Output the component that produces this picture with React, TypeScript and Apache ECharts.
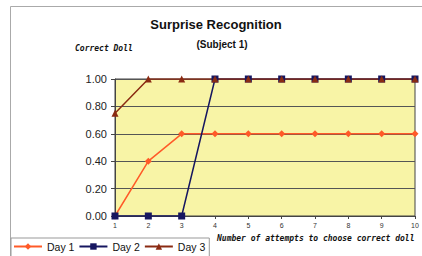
import React, { useEffect, useRef } from "react";
import * as echarts from "echarts";

const categories = ["1", "2", "3", "4", "5", "6", "7", "8", "9", "10"];
const day1 = [0, 0.4, 0.6, 0.6, 0.6, 0.6, 0.6, 0.6, 0.6, 0.6];
const day2 = [0, 0, 0, 1, 1, 1, 1, 1, 1, 1];
const day3 = [0.75, 1, 1, 1, 1, 1, 1, 1, 1, 1];

export default function App() {
  const ref = useRef<HTMLDivElement>(null);
  useEffect(() => {
    const chart = echarts.init(ref.current!, null, { renderer: "svg" });
    chart.setOption({
      animation: false,
      backgroundColor: "#ffffff",
      graphic: [
        {
          type: "rect",
          shape: { x: 10.5, y: 6.5, width: 430, height: 270 },
          style: { fill: "none", stroke: "#aaaaaa", lineWidth: 1 },
          z: -1,
        },
        {
          type: "text",
          x: 216,
          y: 18,
          style: {
            text: "Surprise Recognition",
            font: "bold 13px Arial, 'Liberation Sans', sans-serif",
            fill: "#111",
            align: "center",
          },
        },
        {
          type: "text",
          x: 222,
          y: 39,
          style: {
            text: "(Subject 1)",
            font: "bold 10px Arial, 'Liberation Sans', sans-serif",
            fill: "#111",
            align: "center",
          },
        },
        {
          type: "text",
          x: 75,
          y: 44,
          style: {
            text: "Correct Doll",
            font: "italic bold 8px 'DejaVu Sans Mono', monospace",
            fill: "#111",
          },
        },
        {
          type: "text",
          x: 217,
          y: 234,
          style: {
            text: "Number of attempts to choose correct doll",
            font: "italic bold 8px 'DejaVu Sans Mono', monospace",
            fill: "#111",
          },
        },
      ],
      grid: {
        left: 115,
        right: 7,
        top: 79,
        bottom: 40,
        show: true,
        backgroundColor: "#f8f4a6",
        borderColor: "#444",
        borderWidth: 1,
      },
      legend: {
        left: 11,
        top: 238,
        itemGap: 4,
        itemWidth: 28,
        itemHeight: 8,
        padding: [3, 4, 6, 2],
        borderColor: "#999",
        borderWidth: 1,
        textStyle: { fontSize: 10.5, color: "#111", fontFamily: "Arial, 'Liberation Sans', sans-serif" },
        data: ["Day 1", "Day 2", "Day 3"],
      },
      xAxis: {
        type: "category",
        data: categories,
        boundaryGap: false,
        axisLine: { show: true, lineStyle: { color: "#444" } },
        axisTick: { show: true, length: 3, lineStyle: { color: "#444" } },
        axisLabel: { fontSize: 7, color: "#333", margin: 6, fontFamily: "Arial, sans-serif" },
      },
      yAxis: {
        type: "value",
        min: 0,
        max: 1,
        interval: 0.2,
        axisLine: { show: true, lineStyle: { color: "#444" } },
        axisTick: { show: true, length: 4, lineStyle: { color: "#444" } },
        splitLine: { show: true, lineStyle: { color: "#555", width: 1 } },
        axisLabel: {
          fontSize: 11,
          color: "#222",
          margin: 8,
          fontFamily: "Arial, 'Liberation Sans', sans-serif",
          formatter: (v: number) => v.toFixed(2),
        },
      },
      series: [
        {
          name: "Day 1",
          type: "line",
          data: day1,
          color: "#ff5a28",
          symbol: "diamond",
          symbolSize: 7,
          lineStyle: { width: 1.5, color: "#ff5a28" },
          itemStyle: { color: "#ff5a28" },
        },
        {
          name: "Day 2",
          type: "line",
          data: day2,
          color: "#161660",
          symbol: "rect",
          symbolSize: 7,
          lineStyle: { width: 1.5, color: "#161660" },
          itemStyle: { color: "#161660" },
        },
        {
          name: "Day 3",
          type: "line",
          data: day3,
          color: "#8a2a12",
          symbol: "triangle",
          symbolSize: 7,
          lineStyle: { width: 1.5, color: "#8a2a12" },
          itemStyle: { color: "#8a2a12" },
        },
      ],
    });
    return () => chart.dispose();
  }, []);
  return <div ref={ref} style={{ width: 422, height: 256, position: "absolute", left: 0, top: 0 }} />;
}
